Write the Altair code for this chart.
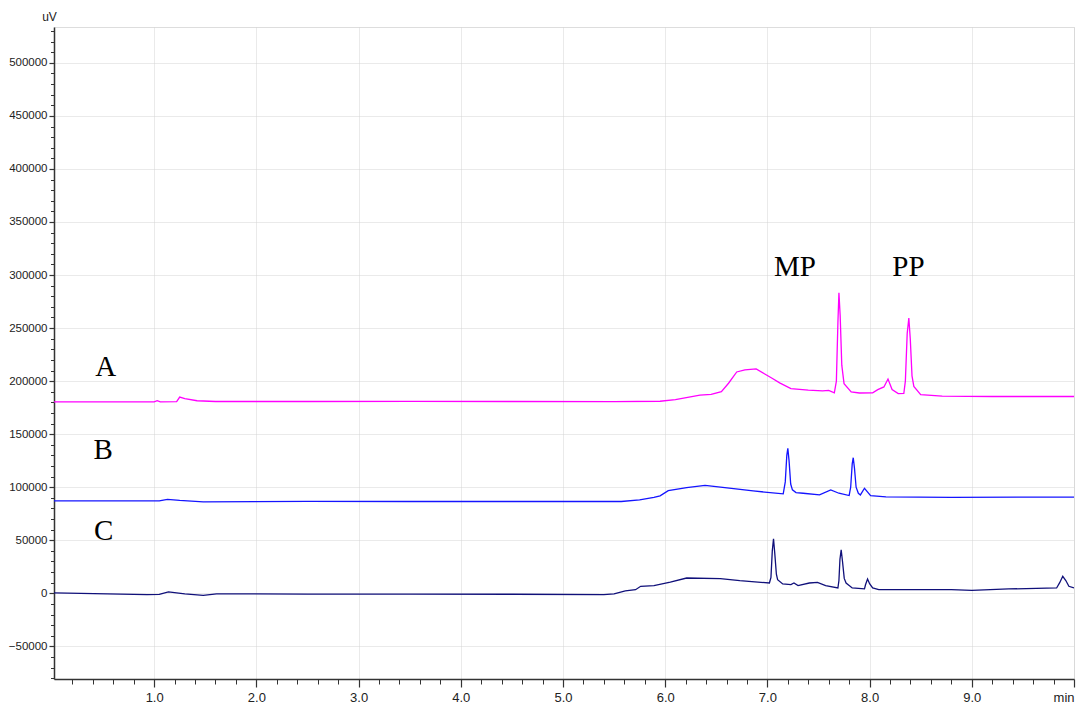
import altair as alt
import pandas as pd

# Trace A (magenta)
a_t = [0.02, 1.00, 1.03, 1.06, 1.22, 1.25, 1.30, 1.42, 1.60, 2.5, 3.5, 4.5, 5.5, 5.95, 6.10,
       6.34, 6.45, 6.55, 6.62, 6.70, 6.78, 6.89, 6.97, 7.05, 7.12, 7.23, 7.40, 7.54, 7.60,
       7.655, 7.675, 7.690, 7.700, 7.712, 7.728, 7.750, 7.82, 7.90, 8.03, 8.08, 8.14, 8.18,
       8.22, 8.28, 8.335, 8.350, 8.368, 8.384, 8.398, 8.415, 8.433, 8.50, 8.71, 9.20, 10.0]
a_v = [180400, 180500, 181500, 180500, 180600, 185000, 183500, 181500, 180800, 180800, 180900,
       180800, 180600, 181000, 182500, 186700, 187500, 190000, 198000, 208600, 210500, 211500,
       207000, 202500, 198300, 193000, 191500, 190800, 191300, 189000, 200000, 255000, 283200,
       262000, 215000, 197600, 189800, 188800, 189000, 192000, 194500, 202000, 192000, 188200,
       188500, 200000, 245000, 259400, 240000, 205000, 195000, 187300, 185800, 185500, 185500]

# Trace B (blue)
b_t = [0.02, 1.05, 1.13, 1.25, 1.48, 2.5, 3.5, 4.5, 5.57, 5.75, 5.89, 5.95, 6.03, 6.21, 6.39,
       6.67, 6.86, 7.155, 7.175, 7.190, 7.200, 7.212, 7.228, 7.245, 7.28, 7.35, 7.51, 7.62,
       7.70, 7.800, 7.815, 7.830, 7.840, 7.852, 7.868, 7.89, 7.91, 7.95, 8.01, 8.16, 8.80,
       9.5, 10.0]
b_v = [87100, 87100, 88600, 87500, 86200, 86600, 86500, 86500, 86500, 88000, 90500, 91800,
       96800, 99600, 101800, 98700, 96500, 93700, 105000, 130000, 136600, 125000, 103000,
       97500, 94900, 94300, 92700, 97400, 94300, 92100, 100000, 122000, 127800, 118000,
       100000, 94300, 92700, 99000, 92100, 90900, 90500, 90700, 90600]

# Trace C (navy)
c_t = [0.02, 0.28, 0.93, 1.05, 1.14, 1.30, 1.48, 1.61, 2.5, 3.5, 4.5, 5.40, 5.50, 5.61, 5.71,
       5.76, 5.89, 6.05, 6.21, 6.54, 6.73, 7.02, 7.035, 7.048, 7.060, 7.072, 7.088, 7.10,
       7.15, 7.23, 7.26, 7.30, 7.41, 7.49, 7.57, 7.69, 7.700, 7.710, 7.722, 7.735, 7.752,
       7.77, 7.83, 7.95, 7.96, 7.98, 8.00, 8.03, 8.09, 8.80, 9.00, 9.36, 9.83, 9.86, 9.89,
       9.92, 9.95, 10.0]
c_v = [300, 0, -1200, -1000, 1250, -500, -1900, -600, -700, -800, -900, -1200, -600, 2200,
       3400, 6600, 7200, 10500, 14400, 13800, 11900, 9700, 15000, 40000, 51400, 38000, 18000,
       12800, 8800, 8200, 9700, 7200, 9700, 10300, 7200, 5000, 12000, 32000, 41000, 30000,
       14000, 9700, 5000, 4100, 8000, 13500, 9000, 5000, 3400, 3400, 2800, 4100, 5000, 10000,
       16000, 12000, 6600, 5000]

series = ["A", "B", "C"]
colors = ["#ff00ff", "#1414ff", "#10107a"]

# Annotations
ann_text = ["A", "B", "C", "MP", "PP"]
ann_t = [0.525, 0.50, 0.506, 7.27, 8.38]
ann_v = [204900, 126900, 49800, 298900, 298900]

x_major = [1, 2, 3, 4, 5, 6, 7, 8, 9, 10]
x_minor = [round(0.2 * i, 1) for i in range(1, 50)]
y_major = [-50000, 0, 50000, 100000, 150000, 200000, 250000, 300000, 350000, 400000, 450000, 500000]
y_minor = list(range(-80000, 540000, 10000))

rows = []
for name, ts, vs in (("A", a_t, a_v), ("B", b_t, b_v), ("C", c_t, c_v)):
    for t, v in zip(ts, vs):
        rows.append({"series": name, "t": t, "v": v})
df = pd.DataFrame(rows)
ann = pd.DataFrame({"label": ann_text, "t": ann_t, "v": ann_v})

xscale = alt.Scale(domain=[0.02, 10.0], nice=False, zero=False)
yscale = alt.Scale(domain=[-80800, 533800], nice=False, zero=False)

lab_font = "Liberation Sans, Arial"

x_major_axis = alt.Axis(
    values=x_major, title=None, orient="bottom",
    labelExpr="datum.value == 10 ? 'min' : format(datum.value, '.1f')",
    labelAlign={"condition": {"test": "datum.value == 10", "value": "right"}, "value": "center"},
    tickSize=8, labelPadding=4, labelFont=lab_font, labelFontSize=13, labelColor="#222222",
    tickColor="#333333", domainColor="#333333", domainWidth=1.5, tickWidth=1.2,
    grid=True, gridColor="#d4d4d4", gridDash=[1, 1], gridWidth=1,
)
x_minor_axis = alt.Axis(
    values=x_minor, title=None, orient="bottom", labels=False, grid=False,
    domain=False, tickSize=5, tickColor="#333333", tickWidth=1,
)
y_major_axis = alt.Axis(
    values=y_major, title="uV", orient="left", format="d",
    titleAngle=0, titleX=-5, titleY=-4, titleAlign="center", titleBaseline="bottom",
    titleFont=lab_font, titleFontSize=12, titleFontWeight="normal", titleColor="#222222",
    tickSize=5, labelPadding=2, labelFont=lab_font, labelFontSize=11.5, labelColor="#222222",
    tickColor="#333333", domainColor="#333333", domainWidth=1.5, tickWidth=1.2,
    grid=True, gridColor="#d4d4d4", gridDash=[1, 1], gridWidth=1,
)
y_minor_axis = alt.Axis(
    values=y_minor, title=None, orient="left", labels=False, grid=False,
    domain=False, tickSize=3.5, tickColor="#333333", tickWidth=1,
)

lines = alt.Chart(df).mark_line(strokeWidth=1.3, clip=True).encode(
    x=alt.X("t:Q", scale=xscale, axis=x_major_axis),
    y=alt.Y("v:Q", scale=yscale, axis=y_major_axis),
    color=alt.Color("series:N", scale=alt.Scale(domain=series, range=colors), legend=None),
    detail="series:N",
)

minor = alt.Chart(df).mark_point(opacity=0).encode(
    x=alt.X("t:Q", scale=xscale, axis=x_minor_axis),
    y=alt.Y("v:Q", scale=yscale, axis=y_minor_axis),
)

labels = alt.Chart(ann).mark_text(
    font="Liberation Serif, Times New Roman, serif", fontSize=29, color="#000000",
    align="center", baseline="alphabetic",
).encode(
    x=alt.X("t:Q", scale=xscale, axis=None),
    y=alt.Y("v:Q", scale=yscale, axis=None),
    text="label:N",
)

chart = alt.layer(lines, minor, labels).resolve_axis(
    x="independent", y="independent"
).properties(
    width=1020, height=652,
    autosize=alt.AutoSizeParams(type="none"),
    padding={"left": 46, "top": 19, "right": 2, "bottom": 24},
).configure_view(
    stroke="#333333", strokeWidth=1.2,
).configure(background="white")

chart.save("out.html", embed_options={"renderer": "svg", "actions": False})
